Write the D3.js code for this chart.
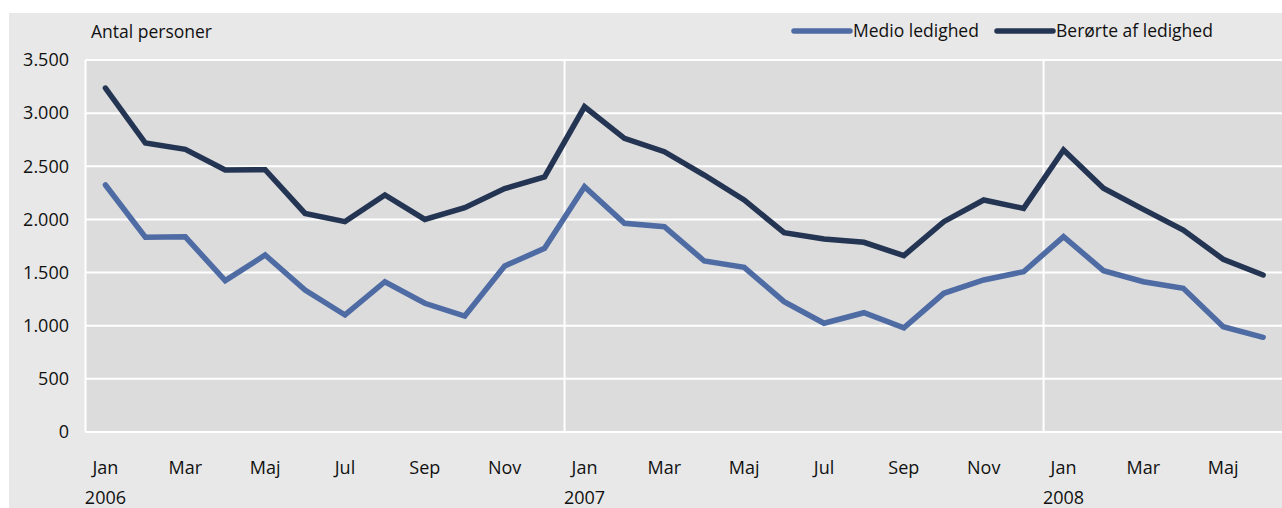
<!DOCTYPE html>
<html lang="da">
<head>
<meta charset="UTF-8">
<title>Ledighed</title>
<script src="https://d3js.org/d3.v7.min.js"></script>
<style>
  body { margin: 0; background: #fff; }
  text { font-family: "Open Sans", sans-serif; fill: #111; }
</style>
</head>
<body>
<svg width="1282" height="508"></svg>
<script>
// months Jan 2006 - Jun 2008
const months = ["Jan","Feb","Mar","Apr","Maj","Jun","Jul","Aug","Sep","Okt","Nov","Dec"];
const years = [2006, 2007, 2008];
const medio = [2324,1832,1836,1424,1665,1336,1101,1414,1211,1091,1562,1728,
               2308,1963,1932,1609,1549,1226,1023,1122,981,1305,1430,1508,
               1838,1518,1414,1352,991,891];
const beroerte = [3236,2719,2660,2465,2468,2057,1979,2230,2000,2110,2290,2400,
                  3060,2763,2637,2418,2183,1875,1816,1785,1659,1979,2183,2104,
                  2653,2293,2095,1900,1625,1477];
const yTicks = [0,500,1000,1500,2000,2500,3000,3500];
const seriesNames = ["Medio ledighed", "Berørte af ledighed"];
const colors = ["#4e6ba4", "#243453"];

const svg = d3.select("svg");
const W = 1282, H = 508;

const keys = d3.range(medio.length);
const x = d3.scaleBand().domain(keys).range([85.5, 85.5 + 39.92 * keys.length]);
const y = d3.scaleLinear().domain([0, 3500]).range([432, 60]);
const cx = i => x(i) + x.bandwidth() / 2;

// backgrounds
svg.append("rect").attr("x", 9).attr("y", 13).attr("width", W - 9).attr("height", H - 13).attr("fill", "#e8e8e8");
svg.append("rect").attr("x", x.range()[0]).attr("y", y(3500)).attr("width", W - x.range()[0]).attr("height", y(0) - y(3500)).attr("fill", "#dcdcdc");

// grid
svg.append("g").selectAll("line").data(yTicks).join("line")
  .attr("x1", x.range()[0]).attr("x2", W)
  .attr("y1", d => y(d)).attr("y2", d => y(d))
  .attr("stroke", "#fff").attr("stroke-width", 2);
svg.append("g").selectAll("line").data([0, 12, 24]).join("line")
  .attr("x1", d => x(d)).attr("x2", d => x(d))
  .attr("y1", y(3500)).attr("y2", y(0))
  .attr("stroke", "#fff").attr("stroke-width", 2);

// y axis labels
svg.append("g").selectAll("text").data(yTicks).join("text")
  .attr("x", 69).attr("y", d => y(d)).attr("dy", "0.35em")
  .attr("text-anchor", "end").attr("font-size", 18)
  .text(d => d3.format(",")(d).replace(/,/g, "."));

svg.append("text").attr("x", 91).attr("y", 38).attr("font-size", 17.5).text("Antal personer");

// x axis labels
const xLab = keys.filter(i => i % 2 === 0);
svg.append("g").selectAll("text").data(xLab).join("text")
  .attr("x", cx).attr("y", 474).attr("text-anchor", "middle").attr("font-size", 18)
  .text(i => months[i % 12]);
svg.append("g").selectAll("text").data(years).join("text")
  .attr("x", (d, j) => cx(j * 12)).attr("y", 504).attr("text-anchor", "middle").attr("font-size", 18)
  .text(d => d);

// lines
const line = d3.line().x((d, i) => cx(i)).y(d => y(d));
[medio, beroerte].forEach((s, k) => {
  svg.append("path").datum(s).attr("d", line)
    .attr("fill", "none").attr("stroke", colors[k]).attr("stroke-width", 5.5)
    .attr("stroke-linejoin", "miter").attr("stroke-linecap", "round");
});

// legend
const legX = [794, 997];
seriesNames.forEach((n, k) => {
  const g = svg.append("g").attr("transform", `translate(${legX[k]},31)`);
  g.append("line").attr("x1", 0).attr("x2", 56).attr("stroke", colors[k])
    .attr("stroke-width", 5.5).attr("stroke-linecap", "round");
  g.append("text").attr("x", 59).attr("dy", "0.35em").attr("font-size", 17.5).text(n);
});
</script>
</body>
</html>
